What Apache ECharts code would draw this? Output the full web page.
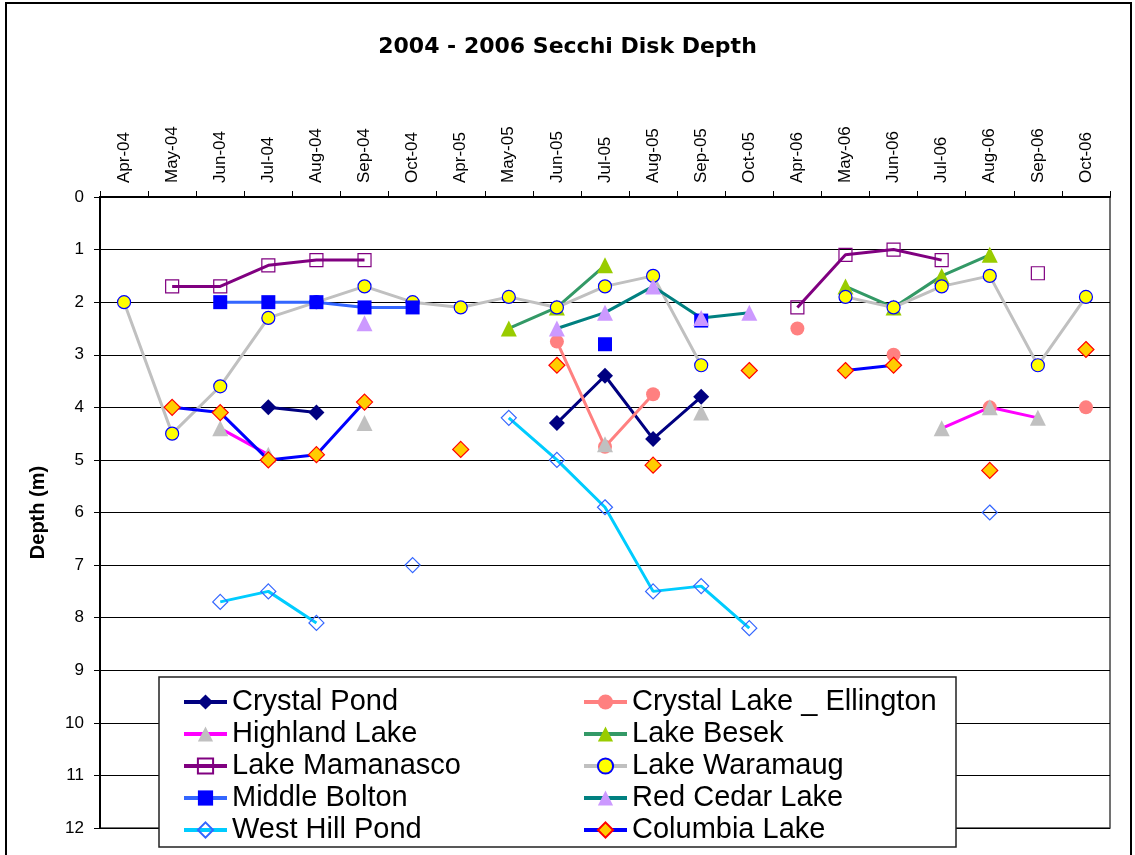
<!DOCTYPE html>
<html>
<head>
<meta charset="utf-8">
<title>Secchi Disk Depth</title>
<script src="https://cdn.jsdelivr.net/npm/echarts@6.0.0/dist/echarts.min.js"></script>
<style>
  html, body { margin: 0; padding: 0; background: #fff; }
  #chart { width: 1135px; height: 855px; }
</style>
</head>
<body>
<div id="chart"></div>
<script>
  // months sampled (x axis, shown on top)
  const months = ['Apr-04', 'May-04', 'Jun-04', 'Jul-04', 'Aug-04', 'Sep-04', 'Oct-04',
    'Apr-05', 'May-05', 'Jun-05', 'Jul-05', 'Aug-05', 'Sep-05', 'Oct-05',
    'Apr-06', 'May-06', 'Jun-06', 'Jul-06', 'Aug-06', 'Sep-06', 'Oct-06'];

  // secchi depth (m), null = not sampled
  const crystalPond = [null, null, null, 4.0, 4.1, null, null, null, null, 4.3, 3.4, 4.6, 3.8, null, null, null, null, null, null, null, null];
  const crystalLake = [null, null, null, null, null, null, null, null, null, 2.75, 4.75, 3.75, null, null, 2.5, null, 3.0, null, 4.0, null, 4.0];
  const highland = [null, null, 4.4, 4.9, null, 4.3, null, null, null, null, 4.7, null, 4.1, null, null, null, null, 4.4, 4.0, 4.2, null];
  const besek = [null, null, null, null, null, null, null, null, 2.5, 2.1, 1.3, null, null, null, null, 1.7, 2.1, 1.5, 1.1, null, null];
  const mamanasco = [null, 1.7, 1.7, 1.3, 1.2, 1.2, null, null, null, null, null, null, null, null, 2.1, 1.1, 1.0, 1.2, null, 1.45, null];
  const waramaug = [2.0, 4.5, 3.6, 2.3, 2.0, 1.7, 2.0, 2.1, 1.9, 2.1, 1.7, 1.5, 3.2, null, null, 1.9, 2.1, 1.7, 1.5, 3.2, 1.9];
  const middleBolton = [null, null, 2.0, 2.0, 2.0, 2.1, 2.1, null, null, null, 2.8, null, 2.35, null, null, null, null, null, null, null, null];
  const redCedar = [null, null, null, null, null, 2.4, null, null, null, 2.5, 2.2, 1.7, 2.3, 2.2, null, null, null, null, null, null, null];
  const westHill = [null, null, 7.7, 7.5, 8.1, null, 7.0, null, 4.2, 5.0, 5.9, 7.5, 7.4, 8.2, null, null, null, null, 6.0, null, null];
  const columbia = [null, 4.0, 4.1, 5.0, 4.9, 3.9, null, 4.8, null, 3.2, null, 5.1, null, 3.3, null, 3.3, 3.2, null, 5.2, null, 2.9];

  const depthTicks = [0, 1, 2, 3, 4, 5, 6, 7, 8, 9, 10, 11, 12];

  const font = '"Liberation Sans", Arial, sans-serif';

  function lake(name, data, lineColor, symbol, size, fill, border) {
    return {
      name: name,
      type: 'line',
      data: data,
      connectNulls: false,
      showAllSymbol: true,
      symbol: symbol,
      symbolSize: size,
      lineStyle: { color: lineColor, width: 3 },
      itemStyle: {
        color: fill,
        borderColor: border || fill,
        borderWidth: border ? 1.2 : 0
      },
      emphasis: { disabled: true }
    };
  }

  const legendBase = {
    orient: 'vertical',
    top: 681,
    itemWidth: 43,
    itemHeight: 19,
    itemGap: 0,
    z: 10,
    lineStyle: { width: 4 },
    textStyle: { fontFamily: font, fontSize: 29, lineHeight: 32, color: '#000' }
  };

  const chart = echarts.init(document.getElementById('chart'));

  const options = {
    animation: false,
    backgroundColor: '#fff',
    textStyle: { fontFamily: font },
    title: {
      text: '2004 - 2006 Secchi Disk Depth',
      left: 'center',
      top: 31,
      textStyle: {
        fontFamily: '"DejaVu Sans", sans-serif',
        fontSize: 22,
        fontWeight: 'bold',
        color: '#000'
      }
    },
    grid: {
      left: 100,
      right: 25,
      top: 197,
      bottom: 27,
      show: true,
      backgroundColor: '#fff',
      borderColor: '#444',
      borderWidth: 1.5
    },
    legend: [
      Object.assign({}, legendBase, {
        left: 177,
        data: ['Crystal Pond', 'Highland Lake', 'Lake Mamanasco', 'Middle Bolton', 'West Hill Pond']
      }),
      Object.assign({}, legendBase, {
        left: 577,
        data: ['Crystal Lake _ Ellington', 'Lake Besek', 'Lake Waramaug', 'Red Cedar Lake', 'Columbia Lake']
      })
    ],
    graphic: [
      {
        type: 'rect',
        z: -10,
        silent: true,
        shape: { x: 6, y: 3, width: 1125, height: 900 },
        style: { fill: 'none', stroke: '#000', lineWidth: 2 }
      },
      {
        type: 'rect',
        z: 5,
        silent: true,
        shape: { x: 159, y: 677, width: 797, height: 170 },
        style: { fill: '#fff', stroke: '#222', lineWidth: 1.5 }
      }
    ],
    xAxis: {
      type: 'category',
      position: 'top',
      data: months,
      boundaryGap: true,
      axisLine: { lineStyle: { color: '#000', width: 2 } },
      axisTick: { show: true, length: 6, lineStyle: { color: '#000', width: 1 } },
      axisLabel: {
        interval: 0,
        rotate: 90,
        margin: 14,
        fontFamily: font,
        fontSize: 17,
        color: '#000'
      },
      splitLine: { show: false }
    },
    yAxis: {
      type: 'value',
      inverse: true,
      min: depthTicks[0],
      max: depthTicks[depthTicks.length - 1],
      interval: 1,
      name: 'Depth (m)',
      nameLocation: 'middle',
      nameRotate: 90,
      nameGap: 52,
      nameTextStyle: { fontFamily: font, fontSize: 20, fontWeight: 'bold', color: '#000' },
      axisLine: { show: true, lineStyle: { color: '#000', width: 2 } },
      axisTick: { show: true, length: 6, lineStyle: { color: '#000' } },
      axisLabel: { margin: 16, fontFamily: font, fontSize: 17, color: '#000' },
      splitLine: { show: true, lineStyle: { color: '#000', width: 1 } }
    },
    series: [
      lake('Crystal Pond', crystalPond, '#000080', 'diamond', 16, '#000080'),
      lake('Crystal Lake _ Ellington', crystalLake, '#FF8080', 'circle', 14, '#FF8080'),
      lake('Highland Lake', highland, '#FF00FF', 'triangle', 16, '#C0C0C0'),
      lake('Lake Besek', besek, '#339966', 'triangle', 16, '#99CC00'),
      lake('Lake Mamanasco', mamanasco, '#800080', 'rect', 13, 'rgba(255,255,255,0)', '#800080'),
      lake('Lake Waramaug', waramaug, '#C0C0C0', 'circle', 13, '#FFFF00', '#0000FF'),
      lake('Middle Bolton', middleBolton, '#3366FF', 'rect', 14, '#0000FF'),
      lake('Red Cedar Lake', redCedar, '#008080', 'triangle', 16, '#CC99FF'),
      lake('West Hill Pond', westHill, '#00CCFF', 'diamond', 15, 'rgba(255,255,255,0)', '#3366FF'),
      lake('Columbia Lake', columbia, '#0000FF', 'diamond', 16, '#FFCC00', '#FF0000')
    ]
  };

  chart.setOption(options);
</script>
</body>
</html>
